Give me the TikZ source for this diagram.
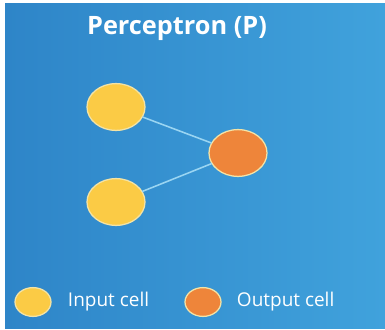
\documentclass[tikz,border=0pt]{standalone}
\usepackage{fontspec}
\setmainfont{Open Sans}
\usetikzlibrary{shapes.geometric}
\definecolor{bgleft}{HTML}{2E85C8}
\definecolor{bgright}{HTML}{40A2DC}
\definecolor{cellyellow}{HTML}{FBCB45}
\definecolor{cellorange}{HTML}{EE853A}
\definecolor{cellrim}{HTML}{F3E3A6}
\definecolor{linkblue}{HTML}{9AD5F2}
\tikzset{
  cell/.style={ellipse,draw=cellrim,line width=0.9pt,inner sep=0pt},
  bigcell/.style={cell,minimum width=1.45cm,minimum height=1.17cm},
  smallcell/.style={cell,minimum width=0.9cm,minimum height=0.72cm},
  link/.style={draw=linkblue,line width=1.1pt},
  legendtext/.style={text=white,font=\fontsize{13.5}{16}\selectfont,anchor=west}
}
\begin{document}
\begin{tikzpicture}[x=0.025cm,y=-0.025cm,line cap=round,line join=round]
  \useasboundingbox[fill=white] (0,0) rectangle (385,329);
  \shade[left color=bgleft,right color=bgright] (5,3) rectangle (385,328);
  \node[text=white,font=\fontsize{18}{21}\selectfont\bfseries] (title) at (177,29) {Perceptron (P)};
  % cells
  \node[bigcell,fill=cellyellow] (in1) at (116,107) {};
  \node[bigcell,fill=cellyellow] (in2) at (116,202) {};
  \node[bigcell,fill=cellorange] (out) at (238,153) {};
  \draw[link] (in1) -- (out);
  \draw[link] (in2) -- (out);
  % legend
  \node[smallcell,fill=cellyellow] (keyin) at (33,302) {};
  \node[legendtext] (keyintext) at (63,302) {Input cell};
  \node[smallcell,fill=cellorange] (keyout) at (203,302) {};
  \node[legendtext] (keyouttext) at (232,302) {Output cell};
\end{tikzpicture}
\end{document}
